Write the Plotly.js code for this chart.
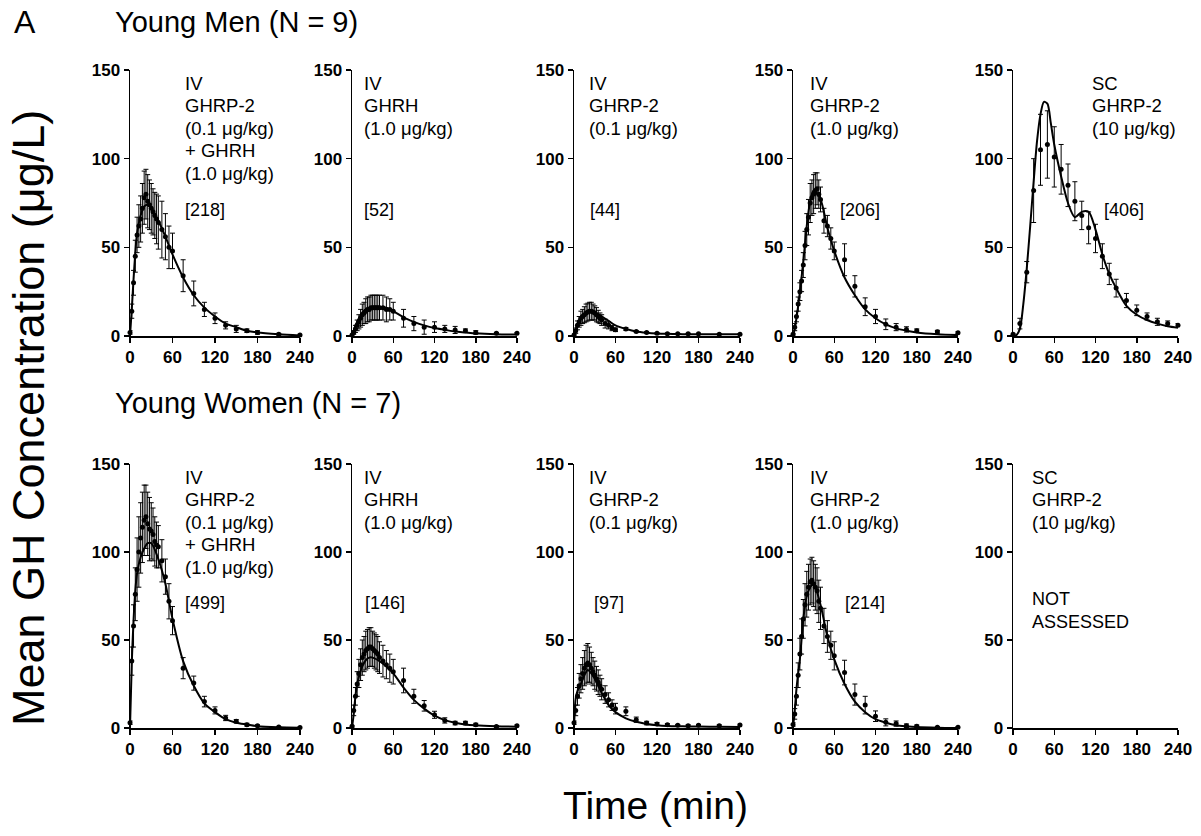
<!DOCTYPE html>
<html>
<head>
<meta charset="utf-8">
<script src="https://cdn.plot.ly/plotly-3.0.1.min.js"></script>
<style>html,body{margin:0;padding:0;background:#fff}#chart{width:1201px;height:836px}</style>
</head>
<body>
<div id="chart"></div>
<script>
// ---------- DATA ----------
const tIV = [0,2.5,5,7.5,10,12.5,15,17.5,20,22.5,25,27.5,30,32.5,35,37.5,40,45,50,55,60,75,90,105,120,135,150,165,180,210,240];
const tFit = [0,2.5,5,7.5,10,15,20,25,30,40,50,60,75,90,105,120,135,150,165,180,210,240];
const tSC = [0,10,20,30,40,50,60,70,80,90,100,110,120,130,140,150,165,180,195,210,225,240];
const tFitSC = [0,5,10,15,20,25,30,35,40,45,50,55,60,70,80,90,100,110,120,130,140,150,165,180,195,210,225,240];
const xTicks = [0,60,120,180,240];
const yTicks = [0,50,100,150];

// Young men
const menCombo    = [2,14,30,45,57,62,66,72,78,80,76,74,72,70,68,66,64,60,56,50,48,34,24,15,10,6,4,3,2,1,0.5];
const menComboErr = [1,4,7,9,10,12,13,14,15,14,15,14,14,13,13,14,15,16,13,12,10,9,7,4,3,2,2,1,1,0.5,0.5];
const menComboFit = [0,15,32,47,58,68,73,74,72,65,56,46,33,23,16,11,7,5,3,2,1,0.3];

const menGHRH    = [0.5,2,4,6,8,10,12,13,14,15,15,16,16,16,16,16,16,16,15,15,14,10,7,5,5,4,3.4,3,2,1.5,1.5];
const menGHRHErr = [0.5,1,2,3,4,5,6,6,7,7,7,7,7,7,7,7,7,7,7,6,5,5,4,4,3,2,2,1,1,0.5,0.5];
const menGHRHFit = [0,3,6,8,10,13,15,16,16.5,16.5,16,14,10.5,8,6,4.5,3.5,2.5,2,1.5,1,0.8];

const menLow    = [0.5,3,6,8,10,11,12,13,13.5,14,14,13.5,13,12,11,10,9,7,6,4.5,3.5,4,2.5,2,1.5,1.3,1.2,1.2,1.2,1,1];
const menLowErr = [0.5,1.5,2.5,3,4,4,4.5,5,5,5,5,4.5,4,4,3.5,3,3,2.5,2,1.5,1,0.8,0.5,0.4,0.4,0.3,0.3,0.3,0.3,0.3,0.3];
const menLowFit = [0,4,7,9,11,12.5,13.5,13.5,13,11,8.5,6,4,2.5,1.8,1.4,1.2,1.1,1,1,1,1];

const menHigh    = [1,5,11,18,25,31,40,51,60,67,75,78,80,82,83,80,77,65,62,55,48,43,28,16.5,11,6.6,5,3.7,3,2.4,1.9];
const menHighErr = [0.5,2,3,4,5,6,7,8,9,10,11,10,11,10,9,8,7,7,6,6,5,9,6,5,4,3,2,1.5,1,0.8,0.5];
const menHighFit = [0,4,10,17,25,42,62,76,82,77,61,48,33,23,15,10,6.5,4.3,3,2,1,0.5];

const menSC    = [1,7,36,82,105,108,101,94,85,76,68,61,55,45,35,27,20,14.5,11,8,7,6];
const menSCErr = [0.5,3,6,18,20,19,17,14,12,11,8,9,8,7,6,5,4,3,2,2,1.5,1];
const menSCFit = [0,0.5,4,18,38,62,87,110,125,132,131,120,108,90,75,67,70,70,60,46,35,27,17,12,9,7,5.5,4.7];

// Young women
const womCombo    = [3,38,58,76,90,100,108,114,118,120,116,113,112,110,106,104,103,95,86,72,61,34,25.5,15,10,5.7,3.8,1.9,1.3,0.6,0.3];
const womComboErr = [1,8,12,15,18,20,20,20,20,18,18,18,16,15,14,13,12,12,10,10,8,6,4,3,2,1.5,1,0.8,0.5,0.3,0.3];
const womComboFit = [0,37,61,78,88,97,102,105,105,96,82,62,38,24,14,9,5,3,2,1,0.4,0.2];

const womGHRH    = [1,10,18,25,31,36,40,42,44,45,46,46,45,44,43,42,40,38,36,34,32,27,18,12.6,7.5,4.3,2.8,2.8,1.9,0.9,1.3];
const womGHRHErr = [0.5,3,5,7,8,9,10,10,11,11,11,11,10,10,10,10,9,9,8,8,7,7,4,3,2,1.5,1,1,0.8,0.5,0.5];
const womGHRHFit = [0,8,18,25,29,35,38.5,40,40,38,35,31,23,16,11,7,4.5,3,2,1.5,1,0.7];

const womLow    = [3,10,18,24,28,31,34,36,37,36,34,32,30,28,26,24,22,19,16,13,11,9.5,4.7,2.8,2.3,1.9,1.5,1.3,1.5,1.3,1.7];
const womLowErr = [1,3,5,7,8,9,10,11,11,10,9,8,8,7,7,6,6,5,4,3,3,2.5,1.5,1,0.8,0.6,0.5,0.5,0.5,0.5,0.5];
const womLowFit = [0,17,21,23,25,30,33,31,28,20,13,9,5.5,3.5,2.3,1.6,1.2,1,0.9,0.8,0.7,0.6];

const womHigh    = [2,8,18,30,42,52,62,70,76,80,83,84,82,80,78,72,68,58,52,47,41,31.5,19,13,6.7,3.2,2.5,1.3,1,0.4,0.4];
const womHighErr = [1,3,5,7,9,10,11,12,13,13,13,13,13,13,13,12,12,10,9,8,8,7,6,5,3,2,1.5,1,0.7,0.4,0.4];
const womHighFit = [0,10,22,31,39,62,75,80,82,70,52,39,25,15,9,5,3,1.6,1,0.6,0.2,0];

// Panel text
const doseText = [
  ["IV","GHRP-2","(0.1 μg/kg)","+ GHRH","(1.0 μg/kg)"],
  ["IV","GHRH","(1.0 μg/kg)"],
  ["IV","GHRP-2","(0.1 μg/kg)"],
  ["IV","GHRP-2","(1.0 μg/kg)"],
  ["SC","GHRP-2","(10 μg/kg)"]
];
const aucMen = ["[218]","[52]","[44]","[206]","[406]"];
const aucWomen = ["[499]","[146]","[97]","[214]","NOT<br>ASSESSED"];
const groupTitles = ["Young Men (N = 9)","Young Women (N = 7)"];
const panelLetter = "A";
const yTitle = "Mean GH Concentration (μg/L)";
const xTitle = "Time (min)";

// ---------- LAYOUT ----------
const W = 1201, H = 836;
const px = x => x / W;
const py = y => 1 - y / H;
const FONT = "Liberation Sans, Arial, Helvetica, sans-serif";
const colsX = [[130,300],[352,517],[574,740],[793,958],[1013,1178]];
const rowsY = [[70,336],[464,728]];

const panels = [
  {x:tIV, y:menCombo, e:menComboErr, fx:tFit, fy:menComboFit},
  {x:tIV, y:menGHRH, e:menGHRHErr, fx:tFit, fy:menGHRHFit},
  {x:tIV, y:menLow, e:menLowErr, fx:tFit, fy:menLowFit},
  {x:tIV, y:menHigh, e:menHighErr, fx:tFit, fy:menHighFit},
  {x:tSC, y:menSC, e:menSCErr, fx:tFitSC, fy:menSCFit},
  {x:tIV, y:womCombo, e:womComboErr, fx:tFit, fy:womComboFit},
  {x:tIV, y:womGHRH, e:womGHRHErr, fx:tFit, fy:womGHRHFit},
  {x:tIV, y:womLow, e:womLowErr, fx:tFit, fy:womLowFit},
  {x:tIV, y:womHigh, e:womHighErr, fx:tFit, fy:womHighFit},
  null
];

const traces = [];
const layout = {
  width: W, height: H,
  margin: {l:0, r:0, t:0, b:0},
  paper_bgcolor: "#fff", plot_bgcolor: "#fff",
  showlegend: false,
  font: {family: FONT, color: "#000"},
  annotations: []
};

for (let i = 0; i < 10; i++) {
  const r = Math.floor(i / 5), c = i % 5, n = i + 1;
  const xa = "x" + n, ya = "y" + n;
  const axCommon = {
    showline: true, linecolor: "#000", linewidth: 1.5,
    ticks: "outside", ticklen: 5, tickwidth: 1.5, tickcolor: "#000",
    showgrid: false, zeroline: false, fixedrange: true,
    tickfont: {family: FONT, size: 17, color: "#000", weight: "bold"}
  };
  layout["xaxis" + n] = Object.assign({}, axCommon, {
    domain: [px(colsX[c][0]), px(colsX[c][1])],
    anchor: ya, range: [0, 240], tickmode: "array", tickvals: xTicks, ticktext: xTicks.map(String)
  });
  layout["yaxis" + n] = Object.assign({}, axCommon, {
    domain: [py(rowsY[r][1]), py(rowsY[r][0])],
    anchor: xa, range: [0, 150], tickmode: "array", tickvals: yTicks, ticktext: yTicks.map(String)
  });
  const p = panels[i];
  if (p) {
    traces.push({
      x: p.fx, y: p.fy, xaxis: xa, yaxis: ya, mode: "lines",
      line: {color: "#000", width: 2, shape: "spline", smoothing: 0.8},
      cliponaxis: false, hoverinfo: "skip"
    });
    traces.push({
      x: p.x, y: p.y, xaxis: xa, yaxis: ya, mode: "markers",
      marker: {color: "#000", size: 5},
      error_y: {type: "data", array: p.e, symmetric: true, color: "#000", thickness: 1, width: 2.5},
      cliponaxis: false
    });
  } else {
    traces.push({x: [], y: [], xaxis: xa, yaxis: ya, mode: "markers"});
  }

  // dose text
  const lines = doseText[c];
  const tx = (r === 0 && c === 4) ? 1090 : [183, 362, 587, 808, 1030][c];
  const lineY0 = rowsY[r][0] + 13;
  lines.forEach((t, k) => {
    layout.annotations.push({
      xref: "paper", yref: "paper", x: px(tx), y: py(lineY0 + k * 22.5),
      xanchor: "left", yanchor: "middle", text: t, showarrow: false,
      font: {family: FONT, size: 18.5, color: "#000"}
    });
  });
  // AUC text
  const aucX = r === 0 ? [183, 362, 588, 838, 1102][c] : [183, 363, 592, 843, 1030][c];
  const aucY = r === 0 ? 210 : (c === 4 ? 610 : 603);
  layout.annotations.push({
    xref: "paper", yref: "paper", x: px(aucX), y: py(aucY),
    xanchor: "left", yanchor: "middle", text: (r === 0 ? aucMen : aucWomen)[c], showarrow: false,
    align: "left", font: {family: FONT, size: 18, color: "#000"}
  });
}

layout.annotations.push(
  {xref:"paper", yref:"paper", x:px(12), y:py(22), xanchor:"left", yanchor:"middle", text:panelLetter, showarrow:false, font:{family:FONT, size:32}},
  {xref:"paper", yref:"paper", x:px(113), y:py(22), xanchor:"left", yanchor:"middle", text:groupTitles[0], showarrow:false, font:{family:FONT, size:29}},
  {xref:"paper", yref:"paper", x:px(113), y:py(403), xanchor:"left", yanchor:"middle", text:groupTitles[1], showarrow:false, font:{family:FONT, size:29}},
  {xref:"paper", yref:"paper", x:px(28), y:py(418), xanchor:"center", yanchor:"middle", text:yTitle, textangle:-90, showarrow:false, font:{family:FONT, size:45}},
  {xref:"paper", yref:"paper", x:px(655), y:py(805), xanchor:"center", yanchor:"middle", text:xTitle, showarrow:false, font:{family:FONT, size:39}}
);

Plotly.newPlot("chart", traces, layout, {staticPlot: true});
</script>
</body>
</html>
